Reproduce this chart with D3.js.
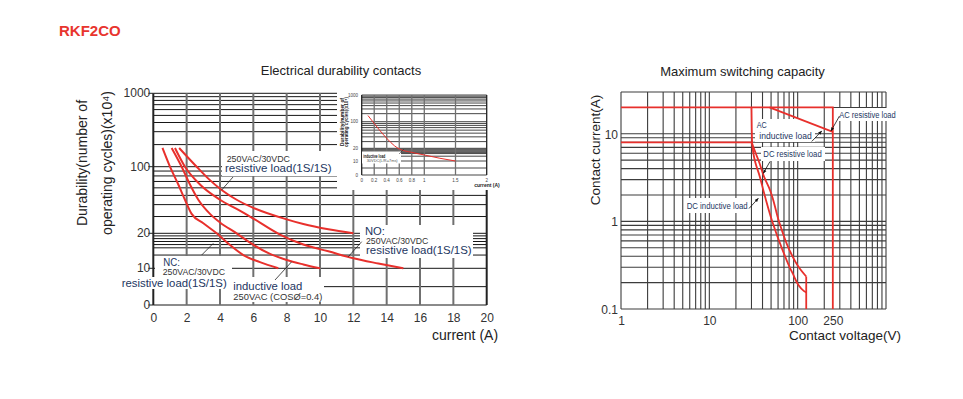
<!DOCTYPE html>
<html>
<head>
<meta charset="utf-8">
<script src="https://cdn.jsdelivr.net/npm/d3@7"></script>
<style>
  body { margin: 0; background: #fff; }
  text { font-family: "Liberation Sans", Arial, sans-serif; }
</style>
</head>
<body>
<script>
// ---- data: electrical durability (current in A, cycles x10^4)
const durCurrentTicks = [0, 2, 4, 6, 8, 10, 12, 14, 16, 18, 20];
const durTickValues = [0, 10, 20, 100, 1000];
const durGridValues = [5, 13, 15, 16, 17, 18, 19, 30, 40, 50, 60, 70, 80, 90, 200, 300, 400, 500, 600, 700, 800, 900];
const durCurve1 = [[0.55, 180], [1.0, 100], [1.5, 65], [1.9, 45], [2.3, 32], [3, 25.5], [3.8, 20], [4.5, 16.3], [5.4, 13], [6.4, 11.3], [7.5, 10]];
const durCurve2 = [[1.1, 180], [1.7, 100], [2.2, 65], [2.7, 45], [3.4, 32], [4, 26], [5, 20], [5.8, 16.6], [7, 13.3], [8, 11.8], [9, 10.8], [10, 10]];
const durCurve3 = [[1.3, 180], [1.9, 100], [2.8, 65], [4, 45], [5, 36], [5.8, 30], [7.6, 19.5], [9, 16], [10.5, 14], [12, 12.2], [13.5, 11], [15, 10]];
const durCurve4 = [[1.55, 180], [2.6, 100], [3.3, 75], [4.1, 57], [5, 45], [6, 37], [8, 28], [9, 25], [10.5, 22], [12, 20]];

// inset: DC inductive load
const insetCurrentTicks = [0, 0.2, 0.4, 0.6, 0.8, 1, 1.5, 2];
const insetCurve = [[0.1, 170], [0.2, 90], [0.35, 45], [0.58, 20], [0.8, 16], [1, 13.9], [1.25, 11.6], [1.5, 10]];

// ---- data: maximum switching capacity (voltage V, current A)
const capVoltTicks = [1, 10, 100, 250];
const capCurrTicks = [0.1, 1, 10];
const capVoltGrid = [1, 2, 3, 4, 5, 6, 7, 8, 9, 10, 20, 30, 40, 50, 60, 70, 80, 90, 100, 200, 300, 400, 500, 600, 700, 800, 900, 1000];
const capCurrGrid = [0.1, 0.2, 0.3, 0.4, 0.5, 0.6, 0.7, 0.8, 0.9, 1, 2, 3, 4, 5, 6, 7, 8, 9, 10, 20, 30];
const acResistive = [[1, 20], [250, 20], [250, 0.1]];
const acInductive = [[48, 20], [250, 10.5]];
const dcLow = [[1, 8], [30, 8]];
const dcCurveA = [[30, 20], [30.2, 12], [30.5, 8], [31.5, 6], [33, 4.8], [37.3, 3.24], [40.8, 2.28], [52, 0.97], [67, 0.48], [87, 0.26], [118, 0.16], [125, 0.155]];
const dcCurveB = [[30, 8], [33.5, 6], [36.5, 4.8], [41.6, 3.24], [48.6, 2.28], [62, 0.97], [80, 0.48], [103, 0.3], [125, 0.235]];
const dcCutoff = [[125, 0.235], [125, 0.1]];

const RED = "#e8302c";
const NAVY = "#23365f";

const svg = d3.select("body").append("svg")
    .attr("width", 963)
    .attr("height", 399);

svg.append("defs").append("marker")
    .attr("id", "arrow")
    .attr("viewBox", "0 0 10 10")
    .attr("refX", 9).attr("refY", 5)
    .attr("markerWidth", 5).attr("markerHeight", 5)
    .attr("orient", "auto")
    .append("path").attr("d", "M0,1 L10,5 L0,9 z").attr("fill", "#111");

svg.append("text")
    .attr("x", 59).attr("y", 36)
    .style("font-size", "15px").style("font-weight", "bold")
    .attr("fill", "#e8352e")
    .text("RKF2CO");

// durability y scale: linear 0-10, then log pieces
function durabilityScale(r) {
    const lin = d3.scaleLinear().domain([0, 10]).range([r[0], r[1]]);
    const lg = d3.scaleLinear().domain([1, Math.log10(20), 2, 3]).range([r[1], r[2], r[3], r[4]]);
    return v => v <= 10 ? lin(v) : lg(Math.log10(v));
}

function drawDurGrid(g, x, y, xTicks, hStroke, vStroke) {
    const x0 = x(d3.min(xTicks)), x1 = x(d3.max(xTicks));
    g.selectAll(".hgrid")
        .data(durGridValues.concat(durTickValues))
        .join("line")
        .attr("x1", x0).attr("x2", x1)
        .attr("y1", d => y(d)).attr("y2", d => y(d))
        .attr("stroke", "#161616").attr("stroke-width", hStroke);
    g.selectAll(".vgrid")
        .data(xTicks)
        .join("line")
        .attr("x1", d => x(d)).attr("x2", d => x(d))
        .attr("y1", y(1000)).attr("y2", y(0))
        .attr("stroke", (d, i) => (i === 0 || i === xTicks.length - 1) ? "#222" : "#707070")
        .attr("stroke-width", vStroke);
}

// ================= left chart =================
const xDur = d3.scaleLinear().domain([0, 20]).range([153.3, 486.7]);
const yDur = durabilityScale([305, 268.3, 233.3, 166.7, 93.3]);

const left = svg.append("g");
left.append("text")
    .attr("x", 341).attr("y", 75)
    .attr("text-anchor", "middle")
    .style("font-size", "13px").attr("fill", "#222")
    .text("Electrical durability contacts");

const leftGrid = left.append("g");
drawDurGrid(leftGrid, xDur, yDur, durCurrentTicks, 1, 2);

// label boxes covering grid
const durBoxes = [[222, 151, 115, 25], [360, 225, 113, 33], [155, 256, 77, 21], [118, 277, 114, 12], [229, 277, 95, 25]];
left.selectAll(".box")
    .data(durBoxes)
    .join("rect")
    .attr("x", d => d[0]).attr("y", d => d[1])
    .attr("width", d => d[2]).attr("height", d => d[3])
    .attr("fill", "#fff");

// y ticks
left.selectAll(".ytick")
    .data(durTickValues)
    .join("line")
    .attr("x1", xDur(0) - 5).attr("x2", xDur(0))
    .attr("y1", d => yDur(d)).attr("y2", d => yDur(d))
    .attr("stroke", "#222");
left.selectAll(".ylab")
    .data(durTickValues)
    .join("text")
    .attr("x", xDur(0) - 3).attr("y", d => yDur(d) + 4)
    .attr("text-anchor", "end")
    .style("font-size", "12px").attr("fill", "#333")
    .text(d => d);

// x axis labels
const xAxis = d3.axisBottom(xDur).tickValues(durCurrentTicks).tickSize(0).tickPadding(8);
left.append("g")
    .attr("transform", `translate(0,${yDur(0)})`)
    .call(xAxis)
    .call(g => g.select(".domain").remove())
    .selectAll("text")
    .style("font-size", "12px").attr("fill", "#333")
    .style("font-family", '"Liberation Sans", Arial, sans-serif');

left.append("text")
    .attr("transform", "translate(87,163) rotate(-90)")
    .attr("text-anchor", "middle")
    .style("font-size", "14px").attr("fill", "#222")
    .text("Durability(number of");
left.append("text")
    .attr("transform", "translate(112,163) rotate(-90)")
    .attr("text-anchor", "middle")
    .style("font-size", "14px").attr("fill", "#222")
    .text("operating cycles)(x10⁴)");
left.append("text")
    .attr("x", 465).attr("y", 340)
    .attr("text-anchor", "middle")
    .style("font-size", "14px").attr("fill", "#222")
    .text("current (A)");

// curves
const durLine = d3.line()
    .x(d => xDur(d[0]))
    .y(d => yDur(d[1]))
    .curve(d3.curveMonotoneX);
left.selectAll(".curve")
    .data([durCurve1, durCurve2, durCurve3, durCurve4])
    .join("path")
    .attr("d", durLine)
    .attr("fill", "none")
    .attr("stroke", RED)
    .attr("stroke-width", 2);

// leaders
const durLeaders = [[233, 177, 221.7, 190], [361.7, 241.7, 348.3, 256.7], [201.7, 255, 213.3, 243.3], [275, 280, 291.7, 261.7]];
left.selectAll(".leader")
    .data(durLeaders)
    .join("line")
    .attr("x1", d => d[0]).attr("y1", d => d[1])
    .attr("x2", d => d[2]).attr("y2", d => d[3])
    .attr("stroke", "#222").attr("stroke-width", 0.8);

// labels: [text, x, baseline, width, size, colour]
const durLabels = [
    ["250VAC/30VDC", 226.7, 161.5, 63.3, 8.5, "#333"],
    ["resistive load(1S/1S)", 225, 172, 106.7, 11, NAVY],
    ["NO:", 365, 234.5, 20, 10, NAVY],
    ["250VAC/30VDC", 366, 243.5, 62.3, 8.5, "#333"],
    ["resistive load(1S/1S)", 366, 254, 105.7, 11, NAVY],
    ["NC:", 163.3, 265.5, 16.7, 10, NAVY],
    ["250VAC/30VDC", 162.7, 275, 62.3, 8.5, "#333"],
    ["resistive load(1S/1S)", 121.7, 286.5, 105, 11, NAVY],
    ["inductive load", 233.3, 290, 69, 11.5, NAVY],
    ["250VAC (COSØ=0.4)", 233.3, 300, 89, 8.5, "#333"]
];
left.selectAll(".lab")
    .data(durLabels)
    .join("text")
    .attr("x", d => d[1]).attr("y", d => d[2])
    .attr("textLength", d => d[3])
    .attr("lengthAdjust", "spacingAndGlyphs")
    .style("font-size", d => d[4] + "px")
    .attr("fill", d => d[5])
    .text(d => d[0]);

// ---------- inset ----------
const inset = left.append("g");
inset.append("rect")
    .attr("x", 337).attr("y", 86).attr("width", 168).attr("height", 104)
    .attr("fill", "#fff");
const xIn = d3.scaleLinear().domain([0, 1, 2]).range([361.7, 424.3, 486.7]);
const yIn = durabilityScale([175, 161, 148.3, 121.7, 95]);
drawDurGrid(inset.append("g"), xIn, yIn, insetCurrentTicks, 0.8, 1.3);

inset.selectAll(".iylab")
    .data(durTickValues)
    .join("text")
    .attr("x", 358).attr("y", d => yIn(d) + 1.5)
    .attr("text-anchor", "end")
    .style("font-size", "4.5px").attr("fill", "#444")
    .text(d => d);
inset.selectAll(".ixlab")
    .data(insetCurrentTicks)
    .join("text")
    .attr("x", d => xIn(d)).attr("y", 181.5)
    .attr("text-anchor", "middle")
    .style("font-size", "4.5px").attr("fill", "#444")
    .text(d => d);
inset.append("text")
    .attr("transform", "translate(343.5,122) rotate(-90)")
    .attr("text-anchor", "middle")
    .attr("textLength", 48).attr("lengthAdjust", "spacingAndGlyphs")
    .style("font-size", "4.6px").style("font-weight", "bold").attr("fill", "#222")
    .text("Durability(number of");
inset.append("text")
    .attr("transform", "translate(348,122) rotate(-90)")
    .attr("text-anchor", "middle")
    .attr("textLength", 50).attr("lengthAdjust", "spacingAndGlyphs")
    .style("font-size", "4.6px").style("font-weight", "bold").attr("fill", "#222")
    .text("operating cycles)(x10⁴)");
inset.append("text")
    .attr("x", 487).attr("y", 186.5)
    .attr("text-anchor", "middle")
    .style("font-size", "5px").style("font-weight", "bold").attr("fill", "#222")
    .text("current (A)");

inset.append("rect")
    .attr("x", 362).attr("y", 151.5).attr("width", 39).attr("height", 12)
    .attr("fill", "#fff");
inset.append("path")
    .datum(insetCurve)
    .attr("d", d3.line().x(d => xIn(d[0])).y(d => yIn(d[1])).curve(d3.curveMonotoneX))
    .attr("fill", "none").attr("stroke", RED).attr("stroke-width", 1);
inset.append("line")
    .attr("x1", 399).attr("y1", 154).attr("x2", 404).attr("y2", 149)
    .attr("stroke", "#222").attr("stroke-width", 0.5);
inset.append("text")
    .attr("x", 363.3).attr("y", 157.5)
    .attr("textLength", 22).attr("lengthAdjust", "spacingAndGlyphs")
    .style("font-size", "4.6px").style("font-weight", "bold").attr("fill", "#111")
    .text("inductive load");
inset.append("text")
    .attr("x", 366.7).attr("y", 162)
    .attr("textLength", 31).attr("lengthAdjust", "spacingAndGlyphs")
    .style("font-size", "3.8px").attr("fill", "#555")
    .text("30VDC(L/R=7ms)");

// ================= right chart =================
const xCap = d3.scaleLog().domain([1, 1000]).range([621, 886]);
const yCap = d3.scaleLog().domain([0.1, 30]).range([309, 92]);

const right = svg.append("g");
right.append("text")
    .attr("x", 742.5).attr("y", 76)
    .attr("text-anchor", "middle")
    .style("font-size", "13px").attr("fill", "#222")
    .text("Maximum switching capacity");

right.selectAll(".cv")
    .data(capVoltGrid)
    .join("line")
    .attr("x1", d => xCap(d)).attr("x2", d => xCap(d))
    .attr("y1", yCap(30)).attr("y2", yCap(0.1))
    .attr("stroke", "#3c3c3c").attr("stroke-width", 1.1);
right.selectAll(".ch")
    .data(capCurrGrid)
    .join("line")
    .attr("x1", xCap(1)).attr("x2", xCap(1000))
    .attr("y1", d => yCap(d)).attr("y2", d => yCap(d))
    .attr("stroke", "#3c3c3c").attr("stroke-width", 1.1);

right.selectAll(".cylab")
    .data(capCurrTicks)
    .join("text")
    .attr("x", xCap(1) - 3).attr("y", d => yCap(d) + 5)
    .attr("text-anchor", "end")
    .style("font-size", "12px").attr("fill", "#333")
    .text(d => d);
const capXAxis = d3.axisBottom(xCap).tickValues(capVoltTicks).tickFormat(d3.format("d")).tickSize(0).tickPadding(7);
right.append("g")
    .attr("transform", `translate(0,${yCap(0.1)})`)
    .call(capXAxis)
    .call(g => g.select(".domain").remove())
    .selectAll("text")
    .style("font-size", "12px").attr("fill", "#333")
    .style("font-family", '"Liberation Sans", Arial, sans-serif');

right.append("text")
    .attr("transform", "translate(600,150) rotate(-90)")
    .attr("text-anchor", "middle")
    .style("font-size", "13.5px").attr("fill", "#222")
    .text("Contact current(A)");
right.append("text")
    .attr("x", 845).attr("y", 340)
    .attr("text-anchor", "middle")
    .style("font-size", "13.5px").attr("fill", "#222")
    .text("Contact voltage(V)");

// label boxes
const capBoxes = [[836, 108, 64, 13], [755, 119, 60, 23], [761, 147, 64, 14], [684, 198, 66, 15]];
right.selectAll(".box")
    .data(capBoxes)
    .join("rect")
    .attr("x", d => d[0]).attr("y", d => d[1])
    .attr("width", d => d[2]).attr("height", d => d[3])
    .attr("fill", "#fff");

const capLine = d3.line().x(d => xCap(d[0])).y(d => yCap(d[1]));
right.selectAll(".straight")
    .data([acResistive, acInductive, dcLow, dcCutoff])
    .join("path")
    .attr("d", capLine)
    .attr("fill", "none").attr("stroke", RED).attr("stroke-width", 1.8);
right.selectAll(".dc")
    .data([dcCurveA, dcCurveB])
    .join("path")
    .attr("d", d3.line().x(d => xCap(d[0])).y(d => yCap(d[1])).curve(d3.curveMonotoneY))
    .attr("fill", "none").attr("stroke", RED).attr("stroke-width", 1.8);

const capLeaders = [[839.5, 116, 831, 131], [811.7, 141.5, 821.7, 131], [770, 161.5, 763.3, 173.3], [749, 208.5, 758.3, 198.3]];
right.selectAll(".leader")
    .data(capLeaders)
    .join("line")
    .attr("x1", d => d[0]).attr("y1", d => d[1])
    .attr("x2", d => d[2]).attr("y2", d => d[3])
    .attr("stroke", "#111").attr("stroke-width", 0.8)
    .attr("marker-end", "url(#arrow)");

const capLabels = [
    ["AC resistive load", 839.3, 118.3, 56.4],
    ["AC", 756.7, 128.3, 10],
    ["inductive load", 759.3, 139, 52.4],
    ["DC resistive load", 763.3, 157, 58.4],
    ["DC inductive load", 686.7, 209, 61]
];
right.selectAll(".lab")
    .data(capLabels)
    .join("text")
    .attr("x", d => d[1]).attr("y", d => d[2])
    .attr("textLength", d => d[3])
    .attr("lengthAdjust", "spacingAndGlyphs")
    .style("font-size", "8.5px")
    .attr("fill", NAVY)
    .text(d => d[0]);
</script>
</body>
</html>
